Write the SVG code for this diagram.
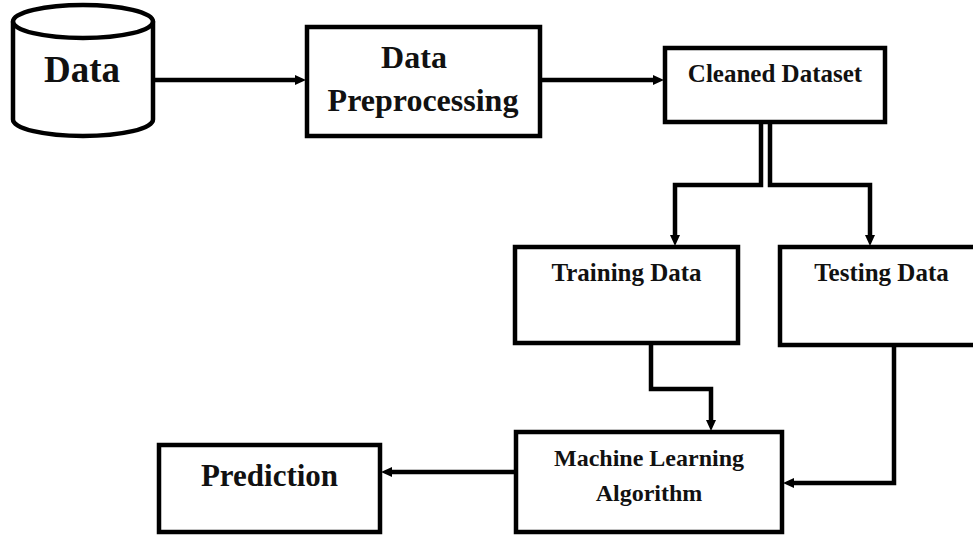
<svg xmlns="http://www.w3.org/2000/svg" width="973" height="535" viewBox="0 0 973 535">
<defs>
<style>
.box{fill:#fff;stroke:#000;stroke-width:4.5}
.ln{fill:none;stroke:#000;stroke-width:4.5;stroke-linejoin:miter}
.t{font-family:"Liberation Serif","Times New Roman",serif;font-weight:bold;fill:#111;text-anchor:middle}
</style>
<marker id="ah" markerUnits="userSpaceOnUse" markerWidth="12" markerHeight="12" viewBox="0 0 12 12" refX="1" refY="6" orient="auto">
<path d="M0,1 L11,6 L0,11 z" fill="#000"/>
</marker>
</defs>
<rect width="973" height="535" fill="#fff"/>
<g id="data">
<path class="box" d="M13,21.5 L13,119.5 A70,16.5 0 0 0 153,119.5 L153,21.5 A70,16.5 0 0 0 13,21.5 Z"/>
<path class="ln" d="M13,21.5 A70,16.5 0 0 0 153,21.5"/>
<text class="t" x="82" y="82" font-size="37">Data</text>
</g>
<g id="preprocessing">
<rect class="box" x="307" y="27" width="233" height="109"/>
<text class="t" x="414" y="68" font-size="32">Data</text>
<text class="t" x="423" y="111" font-size="32">Preprocessing</text>
</g>
<g id="cleaned">
<rect class="box" x="665" y="48" width="220" height="74"/>
<text class="t" x="775" y="82" font-size="25">Cleaned Dataset</text>
</g>
<g id="training">
<rect class="box" x="515" y="247" width="223" height="96"/>
<text class="t" x="626.5" y="281" font-size="25">Training Data</text>
</g>
<g id="testing">
<rect class="box" x="780" y="247" width="210" height="98"/>
<text class="t" x="881.5" y="281" font-size="25">Testing Data</text>
</g>
<g id="ml">
<rect class="box" x="516" y="432" width="266" height="100"/>
<text class="t" x="649" y="466" font-size="24">Machine Learning</text>
<text class="t" x="649" y="501" font-size="24">Algorithm</text>
</g>
<g id="prediction">
<rect class="box" x="159" y="445" width="221" height="87"/>
<text class="t" x="269.5" y="486" font-size="31">Prediction</text>
</g>
<g id="connectors">
<path class="ln" marker-end="url(#ah)" d="M153,80 L296,80"/>
<path class="ln" marker-end="url(#ah)" d="M540,80 L654,80"/>
<path class="ln" marker-end="url(#ah)" d="M761,122 L761,185 L675,185 L675,236"/>
<path class="ln" marker-end="url(#ah)" d="M770,122 L770,185 L870,185 L870,236"/>
<path class="ln" marker-end="url(#ah)" d="M651,343 L651,389 L711,389 L711,421"/>
<path class="ln" marker-end="url(#ah)" d="M894,345 L894,483 L793,483"/>
<path class="ln" marker-end="url(#ah)" d="M516,472 L391,472"/>
</g>
</svg>
